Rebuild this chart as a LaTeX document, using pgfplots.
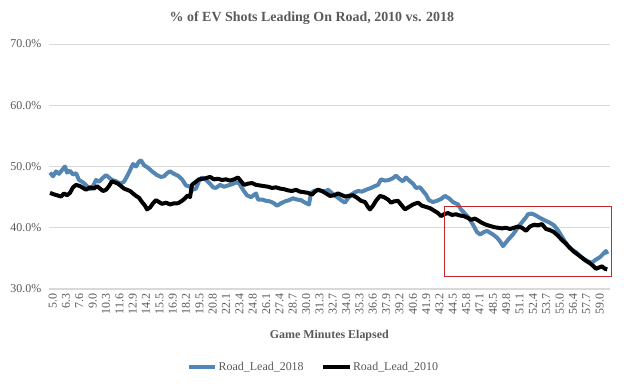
\documentclass[border=0pt]{standalone}
\usepackage{fontspec}
\setmainfont{Liberation Serif}
\usepackage{pgfplots}
\usepackage{pgfplotstable}
\pgfplotsset{compat=1.18}
\usetikzlibrary{calc}
\definecolor{txt}{RGB}{89,89,89}
\definecolor{gridc}{RGB}{217,217,217}
\definecolor{blueline}{RGB}{84,134,180}
\definecolor{boxred}{RGB}{192,40,45}

\pgfplotstableread{
m v
5.00 49.0
5.30 48.4
5.59 49.2
5.89 48.8
6.18 49.4
6.48 50.0
6.68 49.0
6.97 49.3
7.27 48.7
7.57 48.9
7.86 47.8
8.26 47.4
8.65 46.8
8.95 46.3
9.24 46.8
9.54 47.8
9.84 47.5
10.13 48.0
10.53 48.6
10.82 48.2
11.12 47.8
11.51 47.6
11.91 47.2
12.30 47.5
12.60 48.4
12.90 49.4
13.19 50.4
13.49 50.0
13.78 50.8
13.98 51.0
14.28 50.2
14.67 49.8
15.07 49.2
15.56 48.6
15.95 48.3
16.25 48.4
16.55 48.9
16.84 49.2
17.24 48.8
17.63 48.5
18.03 47.9
18.42 46.9
18.82 46.7
19.11 46.2
19.41 46.4
19.70 47.6
20.00 48.2
20.40 47.8
20.79 47.2
21.09 46.6
21.38 46.5
21.78 47.0
22.17 46.7
22.57 46.9
22.96 47.1
23.36 47.4
23.65 47.3
24.05 46.2
24.44 45.3
24.84 45.0
25.33 45.6
25.53 44.6
25.92 44.6
26.32 44.4
26.71 44.3
27.11 44.0
27.40 43.6
27.80 44.0
28.19 44.3
28.59 44.5
28.98 44.8
29.38 44.6
29.77 44.5
30.17 44.1
30.56 43.8
30.76 45.7
31.05 46.0
31.45 46.2
31.84 46.0
32.24 46.0
32.44 46.2
32.93 45.5
33.42 44.9
33.82 44.4
34.11 44.1
34.41 44.8
34.71 45.4
35.10 45.8
35.40 46.0
35.79 45.9
36.19 46.2
36.68 46.5
37.07 46.8
37.37 47.0
37.67 47.9
38.06 47.7
38.46 47.8
38.85 48.1
39.15 48.5
39.54 47.9
39.84 47.6
40.13 48.2
40.53 47.6
40.82 47.2
41.12 46.5
41.52 46.6
41.81 46.0
42.11 45.4
42.40 44.5
42.80 44.2
43.19 44.4
43.59 44.7
43.98 45.2
44.38 44.8
44.77 44.2
45.27 43.8
45.56 43.0
45.96 42.3
46.35 41.6
46.75 40.5
47.14 39.3
47.44 38.9
47.83 39.3
48.13 39.5
48.42 39.2
48.72 38.9
49.11 38.4
49.41 37.8
49.71 37.0
50.00 37.6
50.30 38.2
50.69 38.9
50.99 39.6
51.29 40.3
51.68 41.1
51.98 41.7
52.17 42.2
52.57 42.3
52.96 42.0
53.36 41.6
53.85 41.2
54.35 40.8
54.74 40.4
55.13 39.6
55.43 38.8
55.73 38.0
56.12 37.0
56.52 36.4
56.91 36.0
57.31 35.4
57.70 34.9
58.10 34.5
58.49 34.3
58.88 34.8
59.28 35.2
59.58 35.7
59.87 36.2
60.00 35.7
}\leadtwentyeighteen

\pgfplotstableread{
m v
5.00 45.7
5.30 45.5
5.69 45.3
6.09 45.1
6.38 45.6
6.68 45.3
6.97 45.7
7.27 46.6
7.57 47.0
7.96 46.8
8.26 46.5
8.55 46.2
8.95 46.6
9.34 46.4
9.64 46.8
9.93 46.4
10.23 46.0
10.53 46.2
10.82 46.8
11.12 47.6
11.41 47.4
11.71 47.2
12.01 46.8
12.30 46.4
12.60 46.2
12.90 46.0
13.19 45.6
13.49 45.2
13.78 44.9
14.08 44.2
14.38 43.6
14.57 43.0
14.87 43.3
15.17 44.0
15.46 44.5
15.76 44.2
16.05 43.9
16.45 44.1
16.84 43.8
17.24 44.0
17.63 44.0
18.03 44.4
18.32 44.8
18.62 45.3
18.82 45.0
19.01 47.0
19.31 47.4
19.70 47.9
20.10 48.0
20.40 48.1
20.79 48.3
21.19 47.9
21.58 48.0
21.97 47.8
22.37 47.9
22.76 47.7
23.16 47.9
23.55 48.2
23.85 47.6
24.15 47.0
24.54 47.2
24.94 47.3
25.33 47.0
25.72 46.9
26.12 46.8
26.51 46.7
26.91 46.5
27.30 46.6
27.70 46.4
28.09 46.3
28.49 46.1
28.88 46.0
29.28 46.2
29.67 45.9
30.07 45.8
30.46 45.7
30.86 45.4
31.15 45.9
31.45 46.2
31.84 46.0
32.24 45.6
32.63 45.2
33.03 45.3
33.42 45.6
33.72 45.4
34.11 45.1
34.51 45.2
34.90 45.3
35.30 44.9
35.69 44.4
36.09 44.2
36.38 43.4
36.58 43.0
36.88 43.6
37.17 44.4
37.57 45.2
37.96 45.0
38.36 44.6
38.65 44.1
38.95 44.3
39.34 44.4
39.64 43.8
40.03 43.0
40.43 43.4
40.82 43.8
41.32 44.1
41.71 43.6
42.11 43.4
42.50 43.2
42.90 42.8
43.29 42.4
43.59 41.9
43.88 42.2
44.28 42.4
44.67 42.1
45.07 42.2
45.46 42.0
45.86 41.9
46.25 41.6
46.55 41.3
46.94 41.5
47.34 41.1
47.63 40.8
48.03 40.5
48.42 40.3
48.82 40.1
49.21 40.0
49.61 39.9
50.00 40.0
50.40 39.8
50.79 40.0
51.19 40.2
51.58 40.0
51.98 39.5
52.37 40.2
52.77 40.5
53.16 40.4
53.56 40.6
53.95 39.8
54.35 39.6
54.74 39.3
55.13 38.7
55.53 38.0
55.92 37.4
56.32 36.7
56.71 36.1
57.11 35.6
57.50 35.1
57.90 34.6
58.29 34.2
58.59 33.8
58.88 33.3
59.18 33.5
59.48 33.7
59.77 33.3
60.00 33.2
}\leadtwentyten

\begin{document}
\begin{tikzpicture}
\begin{axis}[
  scale only axis,
  width=421.05bp, height=183.75bp,
  xmin=4.86, xmax=60.27, ymin=30, ymax=70,
  axis line style={draw=none},
  major tick length=0pt,
  /pgf/number format/assume math mode=true,
  ytick={30,40,50,60,70},
  yticklabel={\pgfmathprintnumber[fixed,fixed zerofill,precision=1]{\tick}\%},
  yticklabel style={font=\fontsize{9}{10}\selectfont, text=txt, anchor=east, xshift=-2bp},
  ymajorgrids,
  grid style={gridc, line width=0.75bp},
  xtick={5.000,6.317,7.633,8.950,10.267,11.583,12.900,14.217,15.533,16.850,18.167,19.483,20.800,22.117,23.433,24.750,26.067,27.383,28.700,30.017,31.333,32.650,33.967,35.283,36.600,37.917,39.233,40.550,41.867,43.183,44.500,45.817,47.133,48.450,49.767,51.083,52.400,53.717,55.033,56.350,57.667,58.983},
  xticklabels={5.0,6.3,7.6,9.0,10.3,11.6,12.9,14.2,15.5,16.9,18.2,19.5,20.8,22.1,23.4,24.8,26.1,27.4,28.7,30.0,31.3,32.7,34.0,35.3,36.6,37.9,39.2,40.6,41.9,43.2,44.5,45.8,47.1,48.5,49.8,51.1,52.4,53.7,55.0,56.4,57.7,59.0},
  xticklabel style={rotate=90, anchor=east, font=\fontsize{9}{10}\selectfont, text=txt, yshift=-2bp},
  title={\% of EV Shots Leading On Road, 2010 vs. 2018},
  title style={font=\bfseries\fontsize{10.5}{12}\selectfont, text=txt, at={(0.469,1.073)}, anchor=center},
  xlabel={Game Minutes Elapsed},
  xlabel style={font=\bfseries\fontsize{9}{10}\selectfont, text=txt, at={(0.5,-0.19)}, anchor=center},
  legend style={at={(0.471,-0.318)}, anchor=center, draw=none, fill=none,
    legend columns=2, font=\fontsize{9}{10}\selectfont, text=txt,
    nodes={inner sep=1bp},
    /tikz/every even column/.append style={column sep=12bp}},
  legend image code/.code={\draw[#1] (0bp,0bp) -- (20bp,0bp);},
  clip mode=individual,
]
\draw[gridc, line width=2.2bp] (rel axis cs:0,0) -- (rel axis cs:1,0);
\addplot[blueline, line width=3bp, line join=round] table[x=m, y=v] {\leadtwentyeighteen};
\addlegendentry{Road\_Lead\_2018}
\addplot[black, line width=3bp, line join=round] table[x=m, y=v] {\leadtwentyten};
\addlegendentry{Road\_Lead\_2010}
\draw[boxred, line width=0.8bp] (axis cs:43.98,43.4) rectangle (axis cs:60.46,32.1);
\end{axis}
\pgfresetboundingbox
\path[use as bounding box] ($(current axis.south west)+(-36.45bp,-72.75bp)$) rectangle ($(current axis.south west)+(431.55bp,216.75bp)$);
\end{tikzpicture}
\end{document}
